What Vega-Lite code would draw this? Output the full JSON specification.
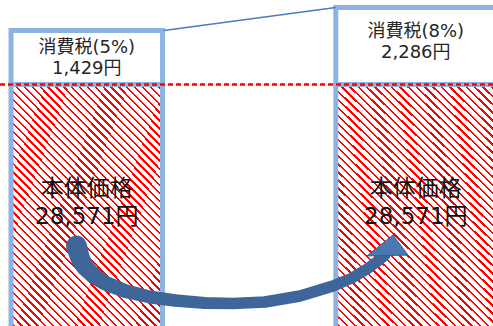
{
"$schema": "https://vega.github.io/schema/vega-lite/v6.json",
"width": 493, "height": 326, "padding": 0, "autosize": {"type": "none"},
"background": "white",
"config": {"view": {"stroke": null}, "axis": {"disable": true}},
"resolve": {"scale": {"x": "independent", "y": "independent"}},
"layer": [
{
"data": {"values": [
 {"scenario": "5%", "base": 28571, "tax": 1429, "total": 30000},
 {"scenario": "8%", "base": 28571, "tax": 2286, "total": 30857}
]},
"transform": [
 {"calculate": "['消費税(' + datum.scenario + ')', format(datum.tax, ',') + '円']", "as": "taxLabel"},
 {"calculate": "['本体価格', format(datum.base, ',') + '円']", "as": "baseLabel"},
 {"calculate": "(datum.base + datum.total) / 2", "as": "mid"},
 {"calculate": "datum.base / 2", "as": "half"}
],
"layer": [
 {"mark": {"type": "bar", "clip": true, "stroke": "#8DB3E2", "strokeWidth": 5,
   "width": {"expr": "datum.scenario === '8%' ? 160 : 151.5"},
   "fill": {"gradient": "linear", "x1": 0, "y1": 1, "x2": 0.7316, "y2": -0.1681, "stops": [
{"offset":0,"color":"#f00"},{"offset":0.006,"color":"#f00"},{"offset":0.006,"color":"#fff"},{"offset":0.02,"color":"#fff"},
{"offset":0.02,"color":"#f00"},{"offset":0.026,"color":"#f00"},{"offset":0.026,"color":"#fff"},{"offset":0.04,"color":"#fff"},
{"offset":0.04,"color":"#f00"},{"offset":0.046,"color":"#f00"},{"offset":0.046,"color":"#fff"},{"offset":0.06,"color":"#fff"},
{"offset":0.06,"color":"#f00"},{"offset":0.066,"color":"#f00"},{"offset":0.066,"color":"#fff"},{"offset":0.08,"color":"#fff"},
{"offset":0.08,"color":"#f00"},{"offset":0.086,"color":"#f00"},{"offset":0.086,"color":"#fff"},{"offset":0.10,"color":"#fff"},
{"offset":0.10,"color":"#f00"},{"offset":0.106,"color":"#f00"},{"offset":0.106,"color":"#fff"},{"offset":0.12,"color":"#fff"},
{"offset":0.12,"color":"#f00"},{"offset":0.126,"color":"#f00"},{"offset":0.126,"color":"#fff"},{"offset":0.14,"color":"#fff"},
{"offset":0.14,"color":"#f00"},{"offset":0.146,"color":"#f00"},{"offset":0.146,"color":"#fff"},{"offset":0.16,"color":"#fff"},
{"offset":0.16,"color":"#f00"},{"offset":0.166,"color":"#f00"},{"offset":0.166,"color":"#fff"},{"offset":0.18,"color":"#fff"},
{"offset":0.18,"color":"#f00"},{"offset":0.186,"color":"#f00"},{"offset":0.186,"color":"#fff"},{"offset":0.20,"color":"#fff"},
{"offset":0.20,"color":"#f00"},{"offset":0.206,"color":"#f00"},{"offset":0.206,"color":"#fff"},{"offset":0.22,"color":"#fff"},
{"offset":0.22,"color":"#f00"},{"offset":0.226,"color":"#f00"},{"offset":0.226,"color":"#fff"},{"offset":0.24,"color":"#fff"},
{"offset":0.24,"color":"#f00"},{"offset":0.246,"color":"#f00"},{"offset":0.246,"color":"#fff"},{"offset":0.26,"color":"#fff"},
{"offset":0.26,"color":"#f00"},{"offset":0.266,"color":"#f00"},{"offset":0.266,"color":"#fff"},{"offset":0.28,"color":"#fff"},
{"offset":0.28,"color":"#f00"},{"offset":0.286,"color":"#f00"},{"offset":0.286,"color":"#fff"},{"offset":0.30,"color":"#fff"},
{"offset":0.30,"color":"#f00"},{"offset":0.306,"color":"#f00"},{"offset":0.306,"color":"#fff"},{"offset":0.32,"color":"#fff"},
{"offset":0.32,"color":"#f00"},{"offset":0.326,"color":"#f00"},{"offset":0.326,"color":"#fff"},{"offset":0.34,"color":"#fff"},
{"offset":0.34,"color":"#f00"},{"offset":0.346,"color":"#f00"},{"offset":0.346,"color":"#fff"},{"offset":0.36,"color":"#fff"},
{"offset":0.36,"color":"#f00"},{"offset":0.366,"color":"#f00"},{"offset":0.366,"color":"#fff"},{"offset":0.38,"color":"#fff"},
{"offset":0.38,"color":"#f00"},{"offset":0.386,"color":"#f00"},{"offset":0.386,"color":"#fff"},{"offset":0.40,"color":"#fff"},
{"offset":0.40,"color":"#f00"},{"offset":0.406,"color":"#f00"},{"offset":0.406,"color":"#fff"},{"offset":0.42,"color":"#fff"},
{"offset":0.42,"color":"#f00"},{"offset":0.426,"color":"#f00"},{"offset":0.426,"color":"#fff"},{"offset":0.44,"color":"#fff"},
{"offset":0.44,"color":"#f00"},{"offset":0.446,"color":"#f00"},{"offset":0.446,"color":"#fff"},{"offset":0.46,"color":"#fff"},
{"offset":0.46,"color":"#f00"},{"offset":0.466,"color":"#f00"},{"offset":0.466,"color":"#fff"},{"offset":0.48,"color":"#fff"},
{"offset":0.48,"color":"#f00"},{"offset":0.486,"color":"#f00"},{"offset":0.486,"color":"#fff"},{"offset":0.50,"color":"#fff"},
{"offset":0.50,"color":"#f00"},{"offset":0.506,"color":"#f00"},{"offset":0.506,"color":"#fff"},{"offset":0.52,"color":"#fff"},
{"offset":0.52,"color":"#f00"},{"offset":0.526,"color":"#f00"},{"offset":0.526,"color":"#fff"},{"offset":0.54,"color":"#fff"},
{"offset":0.54,"color":"#f00"},{"offset":0.546,"color":"#f00"},{"offset":0.546,"color":"#fff"},{"offset":0.56,"color":"#fff"},
{"offset":0.56,"color":"#f00"},{"offset":0.566,"color":"#f00"},{"offset":0.566,"color":"#fff"},{"offset":0.58,"color":"#fff"},
{"offset":0.58,"color":"#f00"},{"offset":0.586,"color":"#f00"},{"offset":0.586,"color":"#fff"},{"offset":0.60,"color":"#fff"},
{"offset":0.60,"color":"#f00"},{"offset":0.606,"color":"#f00"},{"offset":0.606,"color":"#fff"},{"offset":0.62,"color":"#fff"},
{"offset":0.62,"color":"#f00"},{"offset":0.626,"color":"#f00"},{"offset":0.626,"color":"#fff"},{"offset":0.64,"color":"#fff"},
{"offset":0.64,"color":"#f00"},{"offset":0.646,"color":"#f00"},{"offset":0.646,"color":"#fff"},{"offset":0.66,"color":"#fff"},
{"offset":0.66,"color":"#f00"},{"offset":0.666,"color":"#f00"},{"offset":0.666,"color":"#fff"},{"offset":0.68,"color":"#fff"},
{"offset":0.68,"color":"#f00"},{"offset":0.686,"color":"#f00"},{"offset":0.686,"color":"#fff"},{"offset":0.70,"color":"#fff"},
{"offset":0.70,"color":"#f00"},{"offset":0.706,"color":"#f00"},{"offset":0.706,"color":"#fff"},{"offset":0.72,"color":"#fff"},
{"offset":0.72,"color":"#f00"},{"offset":0.726,"color":"#f00"},{"offset":0.726,"color":"#fff"},{"offset":0.74,"color":"#fff"},
{"offset":0.74,"color":"#f00"},{"offset":0.746,"color":"#f00"},{"offset":0.746,"color":"#fff"},{"offset":0.76,"color":"#fff"},
{"offset":0.76,"color":"#f00"},{"offset":0.766,"color":"#f00"},{"offset":0.766,"color":"#fff"},{"offset":0.78,"color":"#fff"},
{"offset":0.78,"color":"#f00"},{"offset":0.786,"color":"#f00"},{"offset":0.786,"color":"#fff"},{"offset":0.80,"color":"#fff"},
{"offset":0.80,"color":"#f00"},{"offset":0.806,"color":"#f00"},{"offset":0.806,"color":"#fff"},{"offset":0.82,"color":"#fff"},
{"offset":0.82,"color":"#f00"},{"offset":0.826,"color":"#f00"},{"offset":0.826,"color":"#fff"},{"offset":0.84,"color":"#fff"},
{"offset":0.84,"color":"#f00"},{"offset":0.846,"color":"#f00"},{"offset":0.846,"color":"#fff"},{"offset":0.86,"color":"#fff"},
{"offset":0.86,"color":"#f00"},{"offset":0.866,"color":"#f00"},{"offset":0.866,"color":"#fff"},{"offset":0.88,"color":"#fff"},
{"offset":0.88,"color":"#f00"},{"offset":0.886,"color":"#f00"},{"offset":0.886,"color":"#fff"},{"offset":0.90,"color":"#fff"},
{"offset":0.90,"color":"#f00"},{"offset":0.906,"color":"#f00"},{"offset":0.906,"color":"#fff"},{"offset":0.92,"color":"#fff"},
{"offset":0.92,"color":"#f00"},{"offset":0.926,"color":"#f00"},{"offset":0.926,"color":"#fff"},{"offset":0.94,"color":"#fff"},
{"offset":0.94,"color":"#f00"},{"offset":0.946,"color":"#f00"},{"offset":0.946,"color":"#fff"},{"offset":0.96,"color":"#fff"},
{"offset":0.96,"color":"#f00"},{"offset":0.966,"color":"#f00"},{"offset":0.966,"color":"#fff"},{"offset":0.98,"color":"#fff"},
{"offset":0.98,"color":"#f00"},{"offset":0.986,"color":"#f00"},{"offset":0.986,"color":"#fff"},{"offset":1,"color":"#fff"}
   ]}},
  "encoding": {
   "x": {"field": "scenario", "type": "nominal", "axis": null, "scale": {"domain": ["5%", "8%"], "paddingInner": 0.5396, "paddingOuter": 0.019, "align": 0.8835}},
   "y": {"field": "base", "type": "quantitative", "axis": null, "scale": {"domain": [0, 28571, 30000, 30857], "range": [332, 84.5, 30.5, 7.5], "zero": false, "nice": false}},
   "y2": {"datum": 0}
  }},
 {"mark": {"type": "bar", "clip": true, "fill": "white", "stroke": "#8DB3E2", "strokeWidth": 5,
   "width": {"expr": "datum.scenario === '8%' ? 160 : 151.5"}},
  "encoding": {
   "x": {"field": "scenario", "type": "nominal", "axis": null, "scale": {"domain": ["5%", "8%"], "paddingInner": 0.5396, "paddingOuter": 0.019, "align": 0.8835}},
   "y": {"field": "total", "type": "quantitative", "axis": null, "scale": {"domain": [0, 28571, 30000, 30857], "range": [332, 84.5, 30.5, 7.5], "zero": false, "nice": false}},
   "y2": {"field": "base"}
  }},
 {"mark": {"type": "rule", "color": "#FF0000", "strokeWidth": 2, "strokeDash": [5, 3]},
  "encoding": {
   "y": {"field": "base", "type": "quantitative", "axis": null, "scale": {"domain": [0, 28571, 30000, 30857], "range": [332, 84.5, 30.5, 7.5], "zero": false, "nice": false}}
  }},
 {"mark": {"type": "text", "font": "DejaVu Sans, Noto Sans CJK JP", "fontSize": 18, "lineHeight": 21, "color": "#262626", "align": "center", "baseline": "middle", "dy": -9.5},
  "encoding": {
   "x": {"field": "scenario", "type": "nominal", "axis": null, "scale": {"domain": ["5%", "8%"], "paddingInner": 0.5396, "paddingOuter": 0.019, "align": 0.8835}},
   "y": {"field": "mid", "type": "quantitative", "axis": null, "scale": {"domain": [0, 28571, 30000, 30857], "range": [332, 84.5, 30.5, 7.5], "zero": false, "nice": false}},
   "text": {"field": "taxLabel"}
  }},
 {"mark": {"type": "text", "font": "DejaVu Sans, Noto Sans CJK JP", "fontSize": 23, "lineHeight": 28.5, "color": "#111111", "align": "center", "baseline": "middle", "dy": -19.5},
  "encoding": {
   "x": {"field": "scenario", "type": "nominal", "axis": null, "scale": {"domain": ["5%", "8%"], "paddingInner": 0.5396, "paddingOuter": 0.019, "align": 0.8835}},
   "y": {"field": "half", "type": "quantitative", "axis": null, "scale": {"domain": [0, 28571, 30000, 30857], "range": [332, 84.5, 30.5, 7.5], "zero": false, "nice": false}},
   "text": {"field": "baseLabel"}
  }},
 {"data": {"values": [{"from": "5%", "to": "8%", "fromTotal": 30000, "toTotal": 30857}]},
  "mark": {"type": "rule", "color": "#4A7EBB", "strokeWidth": 1.6, "xOffset": 77, "x2Offset": -80},
  "encoding": {
   "x": {"field": "from", "type": "nominal", "axis": null, "scale": {"domain": ["5%", "8%"], "paddingInner": 0.5396, "paddingOuter": 0.019, "align": 0.8835}},
   "x2": {"field": "to"},
   "y": {"field": "fromTotal", "type": "quantitative", "axis": null, "scale": {"domain": [0, 28571, 30000, 30857], "range": [332, 84.5, 30.5, 7.5], "zero": false, "nice": false}},
   "y2": {"field": "toTotal"}
  }}
]
},
{
"layer": [
 {"data": {"values": [
  {"i": 1, "u": 15.52, "v": 75.46, "w": 21},
  {"i": 3, "u": 16.23, "v": 79.14, "w": 19.5},
  {"i": 4, "u": 17.24, "v": 81.90, "w": 18},
  {"i": 5, "u": 18.86, "v": 84.36, "w": 16.5},
  {"i": 6, "u": 21.30, "v": 86.81, "w": 15},
  {"i": 7, "u": 25.35, "v": 89.26, "w": 14},
  {"i": 8, "u": 30.43, "v": 91.10, "w": 13},
  {"i": 9, "u": 35.50, "v": 92.18, "w": 12.5},
  {"i": 10, "u": 41.58, "v": 92.94, "w": 12},
  {"i": 11, "u": 47.26, "v": 93.10, "w": 11.5},
  {"i": 12, "u": 53.75, "v": 92.64, "w": 11.5},
  {"i": 13, "u": 60.85, "v": 90.80, "w": 11.5},
  {"i": 14, "u": 67.55, "v": 87.73, "w": 11.5},
  {"i": 15, "u": 71.40, "v": 85.28, "w": 11},
  {"i": 16, "u": 74.44, "v": 82.52, "w": 11},
  {"i": 17, "u": 76.67, "v": 80.06, "w": 11},
  {"i": 18, "u": 78.09, "v": 78.22, "w": 11}
 ]},
  "mark": {"type": "trail", "color": "#3F6698", "opacity": 1},
  "encoding": {
   "x": {"field": "u", "type": "quantitative", "axis": null, "scale": {"domain": [0, 100], "range": [0, 493], "zero": false, "nice": false}},
   "y": {"field": "v", "type": "quantitative", "axis": null, "scale": {"domain": [0, 100], "range": [0, 326], "zero": false, "nice": false}},
   "size": {"field": "w", "type": "quantitative", "scale": null},
   "order": {"field": "i", "type": "quantitative"}
  }},
 {"data": {"values": [{"u": 78.70, "v": 76.38}]},
  "mark": {"type": "point", "filled": true, "opacity": 1, "fill": "#4A78B0", "stroke": "#3A5E8C", "strokeWidth": 1,
   "shape": "M 0.24 -0.67 L 0.95 0.29 L -1 0.33 Z", "size": 1764},
  "encoding": {
   "x": {"field": "u", "type": "quantitative", "axis": null, "scale": {"domain": [0, 100], "range": [0, 493], "zero": false, "nice": false}},
   "y": {"field": "v", "type": "quantitative", "axis": null, "scale": {"domain": [0, 100], "range": [0, 326], "zero": false, "nice": false}}
  }}
]
}
]
}
